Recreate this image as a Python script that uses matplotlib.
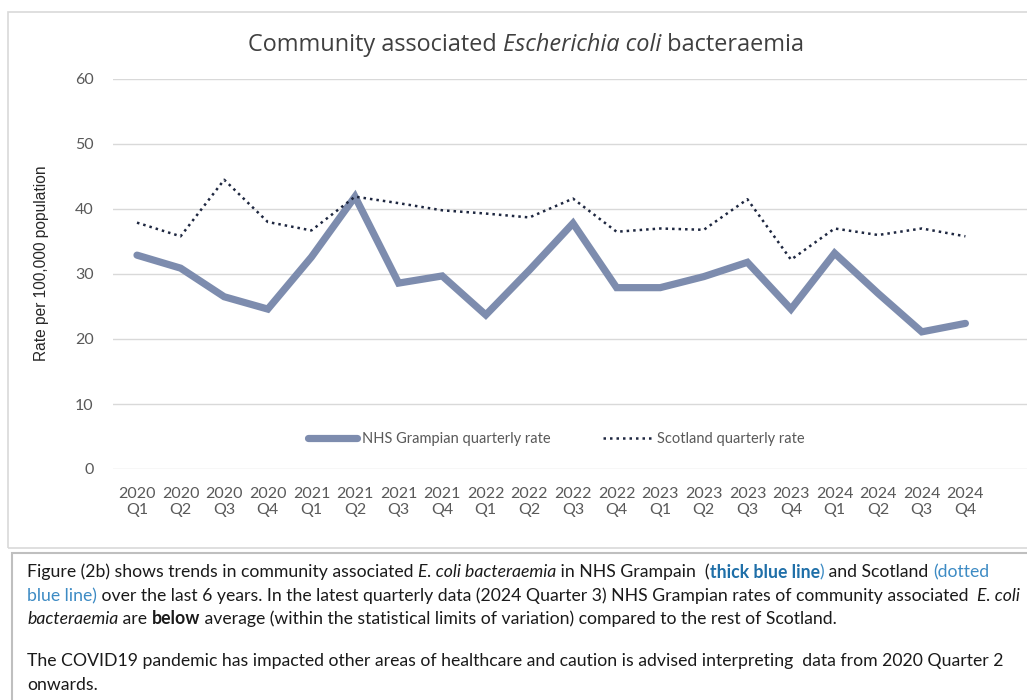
import matplotlib
matplotlib.use("Agg")
import matplotlib.pyplot as plt
from matplotlib.patches import Rectangle
from matplotlib.font_manager import FontProperties

# ---------------- data ----------------
years = ["2020"] * 4 + ["2021"] * 4 + ["2022"] * 4 + ["2023"] * 4 + ["2024"] * 4
quarters = ["Q1", "Q2", "Q3", "Q4"] * 5
grampian = [32.9, 30.9, 26.5, 24.6, 32.6, 41.9, 28.6, 29.7, 23.7, 30.6,
            37.8, 27.9, 27.9, 29.6, 31.8, 24.6, 33.2, 27.0, 21.1, 22.4]
scotland = [37.9, 35.8, 44.5, 38.0, 36.7, 41.9, 40.9, 39.8, 39.3, 38.7,
            41.6, 36.5, 37.0, 36.8, 41.5, 32.2, 37.0, 36.0, 37.0, 35.8]
series_names = ["NHS Grampian quarterly rate", "Scotland quarterly rate"]
y_ticks = [0, 10, 20, 30, 40, 50, 60]
y_label = "Rate per 100,000 population"

W, H = 1027, 700
fig = plt.figure(figsize=(W / 100, H / 100), dpi=100)
fig.patch.set_facecolor("white")

# chart frame and text-box frame
fig.add_artist(Rectangle((8 / W, (H - 548) / H), 1.2, (548 - 12) / H,
                         transform=fig.transFigure, fill=False,
                         edgecolor="#D9D9D9", lw=1.2))
fig.add_artist(Rectangle((12 / W, -0.1), 1.2, (H - 553) / H + 0.1,
                         transform=fig.transFigure, fill=False,
                         edgecolor="#BFBFBF", lw=1.5))

ax = fig.add_axes([113 / W, (H - 469) / H, (W - 113) / W, (469 - 79) / H])
x = list(range(len(grampian)))
ax.plot(x, grampian, color="#7D8CAE", lw=5.2, solid_joinstyle="miter",
        solid_capstyle="round", label=series_names[0], zorder=3)
ax.plot(x, scotland, color="#1E2740", lw=1.8, linestyle=(0, (1, 1.6)),
        label=series_names[1], zorder=4)

step = 43.6
ax.set_xlim(-(137 - 113) / step, (W - 137) / step)
ax.set_ylim(0, 60)
ax.set_yticks(y_ticks)
ax.set_xticks(x)
ax.set_xticklabels([f"{a}\n{b}" for a, b in zip(years, quarters)],
                   fontsize=11.5, color="#595959", family="Lato",
                   linespacing=1.2)
ax.set_yticklabels([str(v) for v in y_ticks], fontsize=11.5, color="#595959",
                   family="Lato")
ax.tick_params(axis="both", length=0)
ax.tick_params(axis="y", pad=14)
ax.tick_params(axis="x", pad=13)
ax.grid(axis="y", color="#D9D9D9", lw=1)
ax.set_axisbelow(True)
for s in ax.spines.values():
    s.set_visible(False)

leg = ax.legend(loc="center", bbox_to_anchor=((556 - 113) / (W - 113), 4.6 / 60),
                ncol=2, frameon=False, handlelength=3.4, columnspacing=3.6,
                handletextpad=0.3, prop=FontProperties(family="Lato", size=10.5))
for t in leg.get_texts():
    t.set_color("#595959")

fig.text(42 / W, 1 - 263 / H, y_label, rotation=90, ha="center", va="center",
         fontsize=11.2, color="#262626", family="Liberation Sans")

renderer = fig.canvas.get_renderer()


def run_width(s, **kw):
    t1 = fig.text(0, 0, "|" + s + "|", **kw)
    t2 = fig.text(0, 0, "||", **kw)
    w = t1.get_window_extent(renderer).width - t2.get_window_extent(renderer).width
    t1.remove()
    t2.remove()
    return w


def draw_runs(runs, x0, yc, base, center=False):
    widths = [run_width(s, **{**base, **kw}) for s, kw in runs]
    if center:
        x0 = x0 - sum(widths) / 2
    xp = x0
    for (s, kw), w in zip(runs, widths):
        fig.text(xp / W, 1 - yc / H, s, ha="left", va="center",
                 **{**base, **kw})
        xp += w
    return xp


# title
title_base = dict(family="Open Sans", fontsize=16.9, color="#404040")
draw_runs([("Community associated ", {}),
           ("Escherichia coli", {"style": "italic"}),
           (" bacteraemia", {})], 526, 45, title_base, center=True)

# body text
IT = {"style": "italic"}
BB = {"weight": "bold", "color": "#1F6FA8"}
BL = {"color": "#3D8BC4"}
BD = {"weight": "bold"}
lines = [
    ([("Figure (2b) shows trends in community associated ", {}),
      ("E. coli bacteraemia", IT), (" in NHS Grampain  (", {}),
      ("thick blue line", BB), (")", BL), (" and Scotland ", {}),
      ("(dotted", BL)], 572),
    ([("blue line)", BL),
      (" over the last 6 years. In the latest quarterly data (2024 Quarter 3) "
       "NHS Grampian rates of community associated  ", {}),
      ("E. coli", IT)], 596),
    ([("bacteraemia", IT), (" are ", {}), ("below", BD),
      (" average (within the statistical limits of variation) compared to the "
       "rest of Scotland.", {})], 619),
    ([("The COVID19 pandemic has impacted other areas of healthcare and caution "
       "is advised interpreting  data from 2020 Quarter 2", {})], 661),
    ([("onwards.", {})], 685),
]

# fit body font size so that line 2 spans the text box width
body_family = "Lato"
probe = dict(family=body_family, fontsize=10, color="#1A1A1A")
w10 = sum(run_width(s, **{**probe, **kw}) for s, kw in lines[1][0])
fs = 10 * (1020 - 27) / w10
body_base = dict(family=body_family, fontsize=fs, color="#1A1A1A")
for runs, yc in lines:
    draw_runs(runs, 27, yc, body_base)

fig.savefig("out.png", dpi=100, facecolor="white")
